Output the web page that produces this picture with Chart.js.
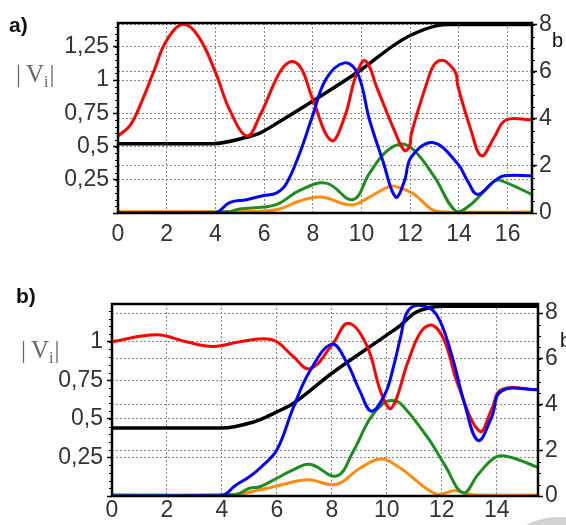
<!DOCTYPE html>
<html>
<head>
<meta charset="utf-8">
<script src="https://cdn.jsdelivr.net/npm/chart.js@4/dist/chart.umd.min.js"></script>
<style>
body{margin:0;background:#fff;}
#wrap{position:relative;width:566px;height:525px;overflow:hidden;}
canvas{position:absolute;left:0;}
.t{position:absolute;line-height:1;white-space:nowrap;}
.sans{font-family:'Liberation Sans',Arial,sans-serif;color:#111;}
.vi{font-family:'Liberation Serif','Times New Roman',serif;font-size:25px;color:#666;}
.vi sub{font-size:16px;vertical-align:-5px;line-height:1;}
</style>
</head>
<body>
<div id="wrap">
  <div class="t" style="left:484px;top:517px;width:152px;height:152px;border-radius:50%;background:#d2d2d2;"></div>
  <canvas id="chartA" width="566" height="250" style="top:0"></canvas>
  <canvas id="chartB" width="566" height="255" style="top:270px"></canvas>
  <div class="t sans" style="left:9px;top:14px;font-size:21px;font-weight:bold;">a)</div>
  <div class="t sans" style="left:16px;top:285px;font-size:21px;font-weight:bold;">b)</div>
  <div class="t vi" style="left:16px;top:61px;">|<span style="margin-left:5px">V</span><sub>i</sub><span style="margin-left:1px">|</span></div>
  <div class="t vi" style="left:21px;top:337px;">|<span style="margin-left:5px">V</span><sub>i</sub><span style="margin-left:1px">|</span></div>
  <div class="t sans" style="left:552px;top:30px;font-size:20px;">b</div>
  <div class="t sans" style="left:560px;top:330px;font-size:20px;">b</div>
</div>
<script>
// panneau a)
var redAT = [0, 0.5, 1.0, 1.5, 2.0, 2.67, 3.3, 4.0, 4.6, 5.3, 5.82, 6.5, 6.85, 7.19, 7.55, 7.97, 8.76, 9.3, 9.78, 10.16, 10.66, 11.35, 11.76, 11.97, 12.05, 12.72, 13.0, 13.33, 13.65, 13.88, 13.95, 14.5, 14.93, 15.45, 15.93, 17];
var redAV = [0.58, 0.66, 0.85, 1.08, 1.30, 1.42, 1.33, 1.06, 0.77, 0.58, 0.73, 1.01, 1.11, 1.14, 1.08, 0.87, 0.545, 0.72, 1.04, 1.146, 0.93, 0.62, 0.47, 0.50, 0.60, 1.0, 1.12, 1.15, 1.11, 1.05, 0.96, 0.62, 0.43, 0.57, 0.70, 0.70];
var blueAT = [0, 3.95, 4.6, 5.27, 5.95, 6.5, 6.91, 7.46, 7.97, 8.55, 9.3, 9.84, 10.33, 10.88, 11.4, 11.76, 12.04, 12.92, 13.95, 14.36, 14.77, 15.45, 15.86, 17];
var blueAV = [0, 0, 0.08, 0.10, 0.13, 0.15, 0.22, 0.45, 0.72, 1.01, 1.13, 1.05, 0.70, 0.39, 0.12, 0.24, 0.42, 0.53, 0.37, 0.24, 0.14, 0.24, 0.28, 0.28];
var greenAT = [0, 4.5, 5.0, 6.0, 6.6, 7.46, 8.55, 9.64, 10.33, 11.0, 11.65, 12.17, 13.0, 13.9, 14.5, 15.45, 15.7, 17];
var greenAV = [0, 0.01, 0.03, 0.045, 0.07, 0.17, 0.225, 0.10, 0.30, 0.46, 0.52, 0.47, 0.27, 0.01, 0.066, 0.24, 0.245, 0.14];
var orangeAT = [0, 5.0, 6.0, 6.64, 7.46, 8.35, 9.58, 10.33, 11.15, 11.5, 12.17, 12.85, 13.3, 17];
var orangeAV = [0.01, 0.01, 0.015, 0.03, 0.09, 0.12, 0.06, 0.12, 0.20, 0.195, 0.14, 0.03, 0.008, 0.008];
var blackAT = [0, 3.9, 5.27, 5.82, 6.64, 7.97, 9.98, 11.35, 12.04, 13.1, 13.6, 17];
var blackAV = [2.95, 2.95, 3.22, 3.4, 3.89, 4.74, 6.09, 7.15, 7.57, 7.97, 8.02, 8.02];

// panneau b)
var redBT = [0, 1.62, 2.7, 3.68, 4.65, 5.5, 6.0, 6.59, 7.2, 8.01, 8.59, 9.26, 9.81, 10.17, 10.77, 11.26, 11.69, 12.11, 12.59, 13.38, 13.81, 14.17, 15.5];
var redBV = [1.0, 1.045, 1.0, 0.97, 1.0, 1.02, 1.0, 0.905, 0.825, 0.98, 1.12, 0.98, 0.66, 0.57, 0.87, 1.07, 1.105, 1.0, 0.72, 0.42, 0.56, 0.69, 0.69];
var blueBT = [0, 3.95, 4.5, 5.0, 5.38, 6.0, 6.59, 7.2, 8.0, 8.53, 9.02, 9.44, 9.93, 10.23, 10.5, 10.77, 11.26, 11.81, 12.35, 12.84, 13.32, 13.81, 14.17, 15.5];
var blueBV = [0, 0, 0.07, 0.125, 0.18, 0.30, 0.57, 0.81, 0.985, 0.87, 0.68, 0.55, 0.66, 0.83, 1.03, 1.20, 1.235, 1.175, 0.92, 0.59, 0.36, 0.51, 0.68, 0.69];
var greenBT = [0, 4.5, 5.0, 5.38, 6.0, 6.59, 7.2, 8.17, 8.78, 9.38, 9.87, 10.17, 10.5, 11.5, 12.11, 12.78, 13.32, 13.99, 14.53, 15.5];
var greenBV = [0, 0.01, 0.05, 0.06, 0.115, 0.17, 0.206, 0.13, 0.29, 0.50, 0.60, 0.62, 0.60, 0.375, 0.2, 0.02, 0.14, 0.255, 0.25, 0.185];
var orangeBT = [0, 4.5, 5.38, 6.0, 6.84, 7.2, 8.17, 9.02, 9.81, 10.5, 10.9, 11.5, 11.9, 12.47, 12.9, 13.3, 15.5];
var orangeBV = [0.01, 0.01, 0.04, 0.065, 0.10, 0.105, 0.076, 0.18, 0.24, 0.18, 0.125, 0.04, 0.01, 0.035, 0.015, 0.006, 0.006];
var blackBT = [0, 4.0, 5.1, 5.5, 6.0, 6.59, 8.01, 10.02, 10.5, 11.0, 11.6, 12.05, 15.5];
var blackBV = [2.97, 2.97, 3.22, 3.4, 3.68, 4.05, 5.38, 7.06, 7.47, 8.0, 8.25, 8.3, 8.3];

var RED = '#ff0000', BLUE = '#0000ff', GREEN = '#1e8c1e', ORANGE = '#ff8c10', BLACK = '#000000';
var tickFont = {family: "'Liberation Sans', Arial, sans-serif", size: 23};

function pts(T, V) {
	var out = [];
	for (var i = 0; i < T.length; i++) out.push({x: T[i], y: V[i]});
	return out;
}

//petits traits de graduation + cadre noir
var frameAndMinor = {
	id: 'frameAndMinor',
	afterDraw: function(chart, args, opts) {
		var ctx = chart.ctx;
		ctx.save();
		ctx.strokeStyle = '#000';
		ctx.lineWidth = 1;
		[['y', opts.yStep], ['y2', opts.y2Step]].forEach(function(p) {
			var s = chart.scales[p[0]];
			ctx.beginPath();
			for (var k = 0; k * p[1] <= s.max + 1e-9; k++) {
				var py = Math.round(s.getPixelForValue(k * p[1])) + 0.5;
				if (p[0] === 'y') { ctx.moveTo(s.right - 3, py); ctx.lineTo(s.right, py); }
				else { ctx.moveTo(s.left, py); ctx.lineTo(s.left + 3, py); }
			}
			ctx.stroke();
		});
		var a = chart.chartArea;
		ctx.lineWidth = 2.5;
		ctx.strokeRect(a.left, a.top, a.right - a.left, a.bottom - a.top);
		ctx.restore();
	}
};

function makeChart(id, c) {
	var grid = {color: '#8a8a8a', lineWidth: 1, tickColor: '#000', tickWidth: 1.5, tickLength: 5, tickBorderDash: []};
	var border = {display: false, dash: [2, 2]};
	return new Chart(document.getElementById(id), {
		type: 'line',
		data: {
			datasets: [
				{data: pts(c.blue[0], c.blue[1]), borderColor: BLUE, yAxisID: 'y'},
				{data: pts(c.red[0], c.red[1]), borderColor: RED, yAxisID: 'y'},
				{data: pts(c.green[0], c.green[1]), borderColor: GREEN, yAxisID: 'y'},
				{data: pts(c.orange[0], c.orange[1]), borderColor: ORANGE, yAxisID: 'y'},
				{data: pts(c.black[0], c.black[1]), borderColor: BLACK, yAxisID: 'y2', borderWidth: 3.5, cubicInterpolationMode: 'monotone'}
			]
		},
		options: {
			responsive: false,
			animation: false,
			layout: {padding: {top: c.top, left: 0, right: 0, bottom: 0}},
			plugins: {legend: {display: false}, tooltip: {enabled: false}, frameAndMinor: {yStep: 0.05, y2Step: 0.5}},
			elements: {point: {radius: 0}, line: {borderWidth: 3, tension: 0.4}},
			scales: {
				x: {
					type: 'linear', min: 0, max: c.xMax,
					afterFit: function(s) { s.height = c.xH; },
					ticks: {stepSize: 2, includeBounds: false, font: tickFont, color: '#333', padding: c.xPad, maxRotation: 0, autoSkip: false},
					grid: Object.assign({}, grid, {drawTicks: false}),
					border: border
				},
				y: {
					type: 'linear', position: 'left', min: 0, max: c.yMax,
					afterFit: function(s) { s.width = c.left; },
					ticks: {stepSize: 0.25, includeBounds: false, font: tickFont, color: '#333', padding: 4,
						callback: function(v) { return v === 0 ? '' : String(v).replace('.', ','); }},
					grid: grid,
					border: border
				},
				y2: {
					type: 'linear', position: 'right', min: 0, max: c.y2Max,
					afterFit: function(s) { s.width = c.right; },
					ticks: {stepSize: 2, includeBounds: false, font: tickFont, color: '#333', padding: 2},
					grid: grid,
					border: border
				}
			}
		},
		plugins: [frameAndMinor]
	});
}

var chartA = makeChart('chartA', {
	red: [redAT, redAV], blue: [blueAT, blueAV], green: [greenAT, greenAV],
	orange: [orangeAT, orangeAV], black: [blackAT, blackAV],
	top: 23, left: 118, right: 34, xH: 37, xPad: 8, xMax: 17, yMax: 1.43, y2Max: 8.08
});
var chartB = makeChart('chartB', {
	red: [redBT, redBV], blue: [blueBT, blueBV], green: [greenBT, greenBV],
	orange: [orangeBT, orangeBV], black: [blackBT, blackBV],
	top: 34, left: 112, right: 28, xH: 29, xPad: 1, xMax: 15.5, yMax: 1.245, y2Max: 8.4
});
</script>
</body>
</html>
